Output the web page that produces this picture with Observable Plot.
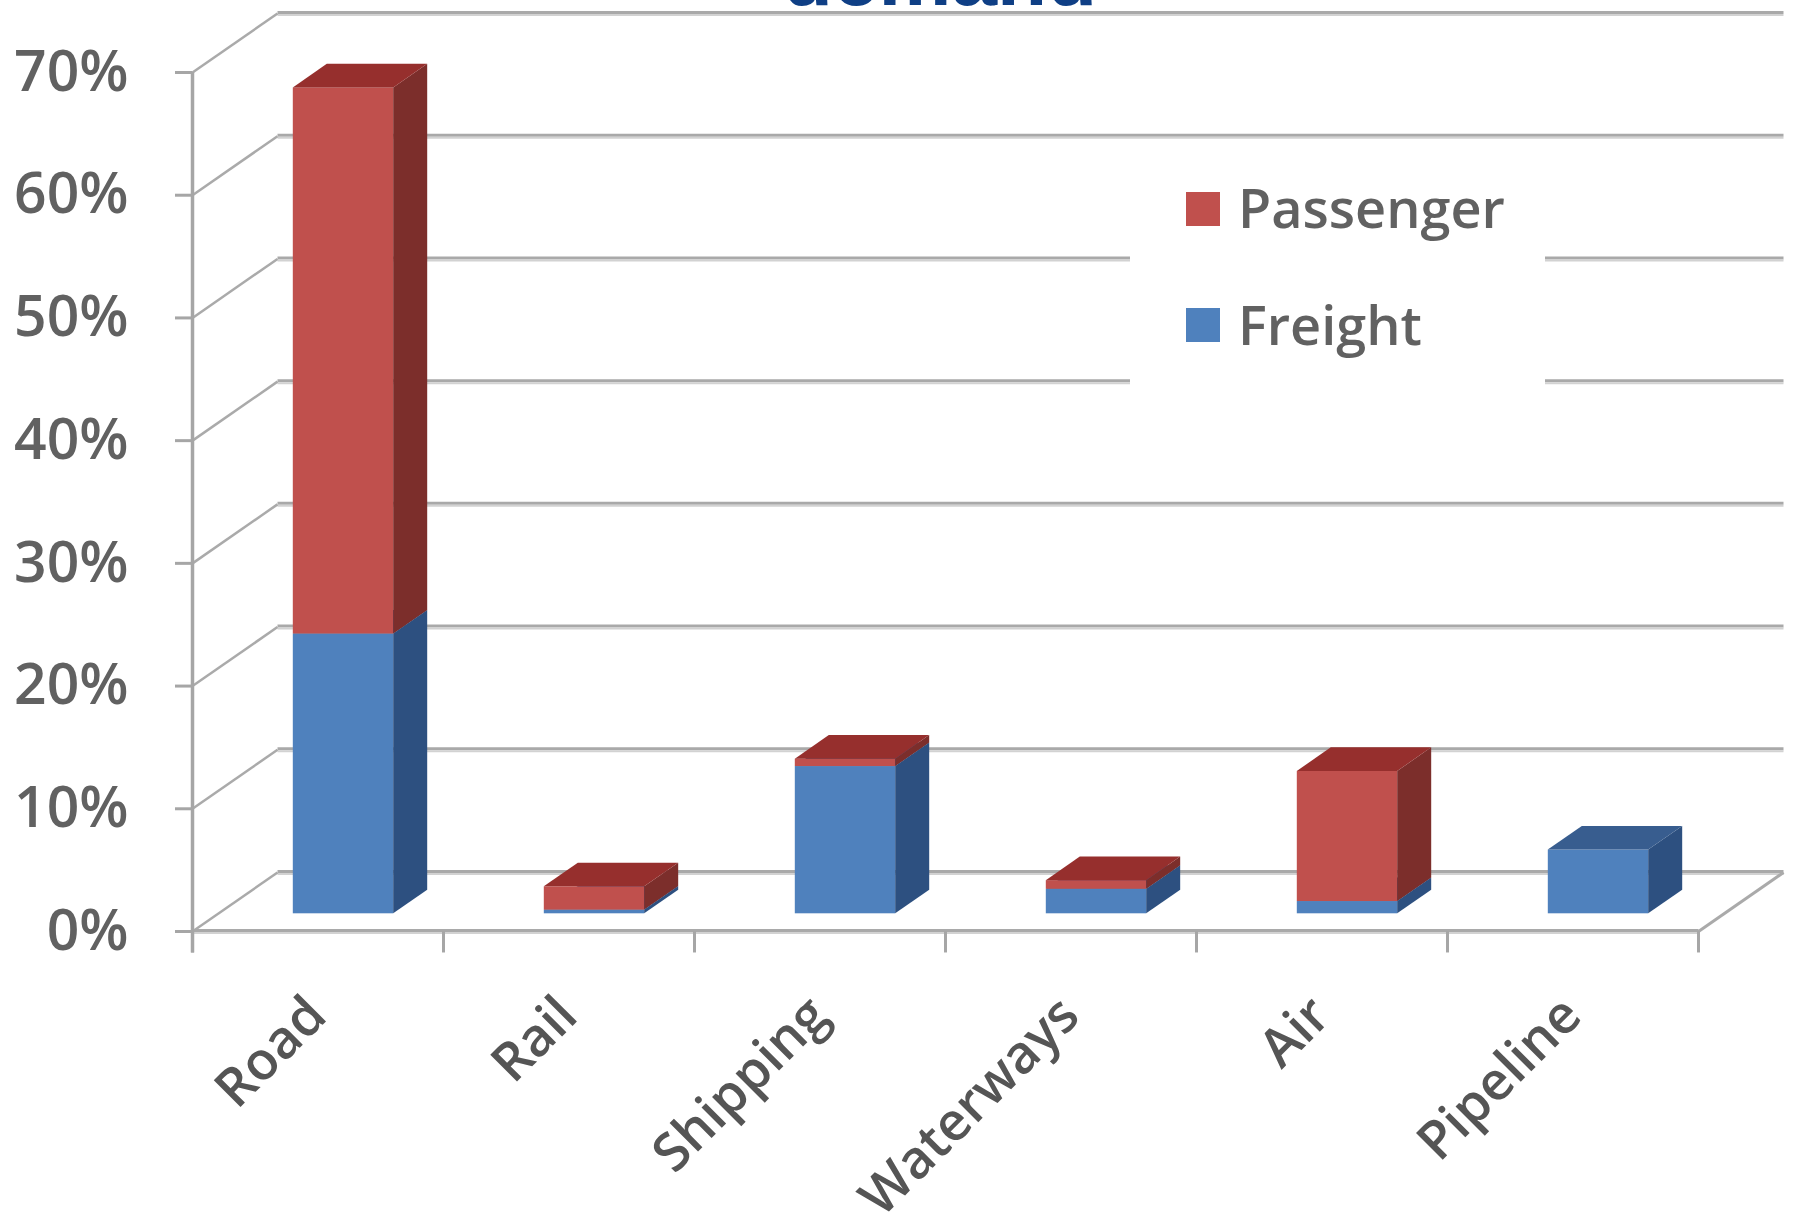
<!DOCTYPE html>
<html>
<head>
<meta charset="utf-8">
<script src="https://cdn.jsdelivr.net/npm/d3@7"></script>
<script src="https://cdn.jsdelivr.net/npm/@observablehq/plot@0.6"></script>
<style>
  html, body { margin: 0; padding: 0; background: #fff; }
  #wrap { position: relative; width: 1808px; height: 1212px; overflow: hidden; font-family: "Open Sans", sans-serif; }
  #chart { position: absolute; left: 0; top: 0; }
  #title { position: absolute; left: 0; width: 1880px; top: -64px; text-align: center;
           font: bold 82px/1 "Liberation Sans", Arial, sans-serif; color: #0f3f85; white-space: nowrap; }
  #legend { position: absolute; left: 1130px; top: 150px; width: 415px; height: 250px; background: #fff; }
  .swatch { position: absolute; width: 34px; height: 34px; }
  .label { position: absolute; font-size: 54px; font-weight: 600; line-height: 1; color: #616161; white-space: nowrap; }
</style>
</head>
<body>
<div id="wrap">
  <div id="chart"></div>
  <div id="title">demand</div>
  <div id="legend"></div>
</div>
<script>
// Share of transport demand by mode, in percent
const modes = ["Road", "Rail", "Shipping", "Waterways", "Air", "Pipeline"];
const freight = [22.8, 0.3, 12.0, 2.0, 1.0, 5.2];
const passenger = [44.5, 1.9, 0.6, 0.7, 10.6, 0];
const yTicks = [0, 10, 20, 30, 40, 50, 60, 70];
const seriesNames = ["Passenger", "Freight"];

// Pseudo-3D geometry, in data units (x: category index, y: percent)
const N = modes.length;
const DX = 85 / 251;        // wall depth along x
const DY = 59 / 12.271;     // wall depth along y
const BAR_W = 0.4;          // bar width as fraction of a category
const Z0 = 0.3, Z1 = 0.7;   // bar front and back depth
const TICK_X = 17 / 251;
const TICK_Y = 1.75;

const palette = {
  Passenger: {front: "#c0504d", side: "#7c2e2b", top: "#962f2d"},
  Freight:   {front: "#4f81bd", side: "#2d5080", top: "#385d8f"}
};

const freightSegs = modes.map((m, i) => ({i, y0: 0, y1: freight[i]})).filter(d => d.y1 > d.y0);
const passengerSegs = modes.map((m, i) => ({i, y0: freight[i], y1: freight[i] + passenger[i]})).filter(d => d.y1 > d.y0);

const left = d => d.i + 0.5 - BAR_W / 2 + Z0 * DX;
const right = d => d.i + 0.5 + BAR_W / 2 + Z0 * DX;

function sidePoints(segs) {
  return segs.flatMap((d, k) => [
    {k, x: right(d), lo: d.y0 + Z0 * DY, hi: d.y1 + Z0 * DY},
    {k, x: right(d) + (Z1 - Z0) * DX, lo: d.y0 + Z1 * DY, hi: d.y1 + Z1 * DY}
  ]);
}
function topPoints(segs) {
  return segs.flatMap((d, k) => [
    {k, y: d.y1 + Z0 * DY, a: left(d), b: right(d)},
    {k, y: d.y1 + Z1 * DY, a: left(d) + (Z1 - Z0) * DX, b: right(d) + (Z1 - Z0) * DX}
  ]);
}
function barMarks(segs, colors) {
  return [
    Plot.rect(segs, {x1: left, x2: right, y1: d => d.y0 + Z0 * DY, y2: d => d.y1 + Z0 * DY, fill: colors.front}),
    Plot.area(sidePoints(segs), {x1: "x", y1: "lo", y2: "hi", z: "k", fill: colors.side}),
    Plot.area(topPoints(segs), {x1: "a", x2: "b", y1: "y", y2: "y", z: "k", fill: colors.top})
  ];
}

// two-tone grey rule used for the back wall and floor
function wallLine(data, opts) {
  return [
    Plot.link(data, {...opts, stroke: "#a9a9a9", strokeWidth: 3, dy: -1}),
    Plot.link(data, {...opts, stroke: "#d2d2d2", strokeWidth: 2, dy: 1.5})
  ];
}

const plot = Plot.plot({
  width: 1808,
  height: 1212,
  marginLeft: 192,
  marginRight: 110,
  marginTop: 72,
  marginBottom: 281,
  style: {fontFamily: "Open Sans, sans-serif", background: "#fff"},
  x: {type: "linear", domain: [0, N], axis: null},
  y: {type: "linear", domain: [0, 70], axis: null},
  marks: [
    // back wall gridlines
    ...wallLine(yTicks, {x1: () => DX, x2: () => N + DX, y1: v => v + DY, y2: v => v + DY}),
    // left wall diagonals
    Plot.link(yTicks, {x1: () => 0, x2: () => DX, y1: v => v, y2: v => v + DY, stroke: "#aaaaaa", strokeWidth: 2.5}),
    // floor: right edge and front edge
    Plot.link([0], {x1: () => N, x2: () => N + DX, y1: () => 0, y2: () => DY, stroke: "#aaaaaa", strokeWidth: 3}),
    ...wallLine([0], {x1: () => 0, x2: () => N, y1: () => 0, y2: () => 0}),
    // vertical value axis and its ticks
    Plot.ruleX([0], {x: d => d, y1: () => -TICK_Y, y2: () => 70, stroke: "#a6a6a6", strokeWidth: 3.5}),
    Plot.ruleY(yTicks, {y: d => d, x1: () => -TICK_X, x2: () => 0, stroke: "#a6a6a6", strokeWidth: 3}),
    // category ticks
    Plot.ruleX(d3.range(N + 1), {x: d => d, y1: () => -TICK_Y, y2: () => 0, stroke: "#a6a6a6", strokeWidth: 3}),
    // bars: freight at the bottom, passenger stacked on top
    ...barMarks(freightSegs, palette.Freight),
    ...barMarks(passengerSegs, palette.Passenger),
    // value labels
    Plot.text(yTicks, {x: () => 0, y: d => d, text: d => d + "%", textAnchor: "end", dx: -64,
      fontSize: 57, fontWeight: 600, fill: "#616161"}),
    // category labels
    Plot.text(modes, {x: (d, i) => i + 0.5, y: () => 0, text: d => d, textAnchor: "end", rotate: -45,
      dx: -1, dy: 75, fontSize: 53, fontWeight: 600, fill: "#555555"})
  ]
});
document.getElementById("chart").append(plot);

// legend
const legend = document.getElementById("legend");
const legendRows = [
  {name: seriesNames[0], color: palette.Passenger.front, swatchTop: 42, labelTop: 30},
  {name: seriesNames[1], color: palette.Freight.front, swatchTop: 158, labelTop: 147}
];
for (const r of legendRows) {
  const sw = document.createElement("div");
  sw.className = "swatch";
  sw.style.left = "56px";
  sw.style.top = r.swatchTop + "px";
  sw.style.background = r.color;
  legend.append(sw);
  const lb = document.createElement("div");
  lb.className = "label";
  lb.style.left = "108px";
  lb.style.top = r.labelTop + "px";
  lb.textContent = r.name;
  legend.append(lb);
}
</script>
</body>
</html>
